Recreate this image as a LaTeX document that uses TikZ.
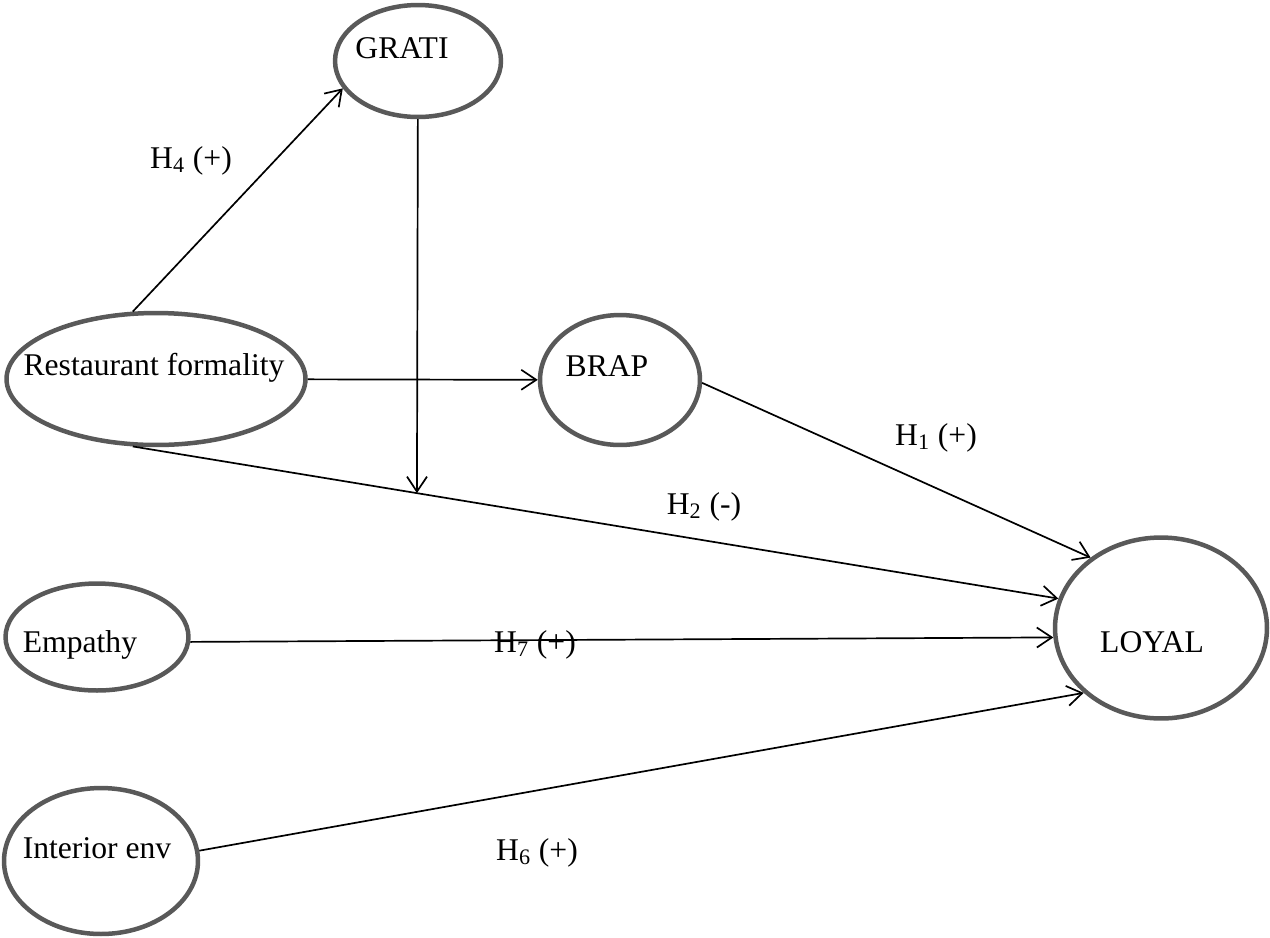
\documentclass[tikz,border=0pt]{standalone}
\usepackage{fontspec}
\setmainfont{Liberation Serif}
\usetikzlibrary{arrows.meta,shapes.geometric,calc}
\definecolor{ovalgray}{RGB}{89,89,89}

\begin{document}
\begin{tikzpicture}[x=0.02cm,y=-0.02cm,
    construct/.style={ellipse,draw=ovalgray,line width=0.09cm,inner sep=0pt},
    lbl/.style={anchor=base,inner sep=0pt,font=\fontsize{18}{22}\selectfont},
    arr/.style={-{Straight Barb[length=0.3cm,width=0.4cm]},line width=0.034cm}]
   \useasboundingbox (0,0) rectangle (1270,937);
   % constructs
   \node[construct,minimum width=3.32cm,minimum height=2.24cm] (grati)  at ( 418, 61) {};
   \node[construct,minimum width=5.98cm,minimum height=2.64cm] (rf)     at ( 156,379) {};
   \node[construct,minimum width=3.20cm,minimum height=2.60cm] (brap)   at ( 620,380) {};
   \node[construct,minimum width=3.66cm,minimum height=2.14cm] (emp)    at (  97,637) {};
   \node[construct,minimum width=3.88cm,minimum height=2.92cm] (intenv) at ( 101,861) {};
   \node[construct,minimum width=4.24cm,minimum height=3.62cm] (loyal)  at (1161,628) {};
   \node[lbl] (gratitxt)  at ( 402, 58) {GRATI};
   \node[lbl] (rftxt)     at ( 154,375) {Restaurant formality};
   \node[lbl] (braptxt)   at ( 607,376) {BRAP};
   \node[lbl] (emptxt)    at (  80,652) {Empathy};
   \node[lbl] (intenvtxt) at (  97,858) {Interior env};
   \node[lbl] (loyaltxt)  at (1152,652) {LOYAL};
   % paths
   \coordinate (mod) at ($(rf.251)!0.307!(loyal.164)$);
   \draw[arr] (rf.109) -- (grati.200);
   \draw[arr] (rf) -- (brap);
   \draw[arr] (rf.251) -- (loyal.164);
   \draw[arr] (grati) -- (mod);
   \draw[arr] (brap.358) -- (loyal.135);
   \draw[arr] (emp.357) -- (loyal.185);
   \draw[arr] (intenv.6) -- (loyal.220);
   % hypotheses
   \node[lbl] (h4) at (191,168) {H\textsubscript{4} (+)};
   \node[lbl] (h2) at (704,514) {H\textsubscript{2} (-)};
   \node[lbl] (h1) at (936,445) {H\textsubscript{1} (+)};
   \node[lbl] (h7) at (535,652) {H\textsubscript{7} (+)};
   \node[lbl] (h6) at (537,860) {H\textsubscript{6} (+)};
\end{tikzpicture}
\end{document}
